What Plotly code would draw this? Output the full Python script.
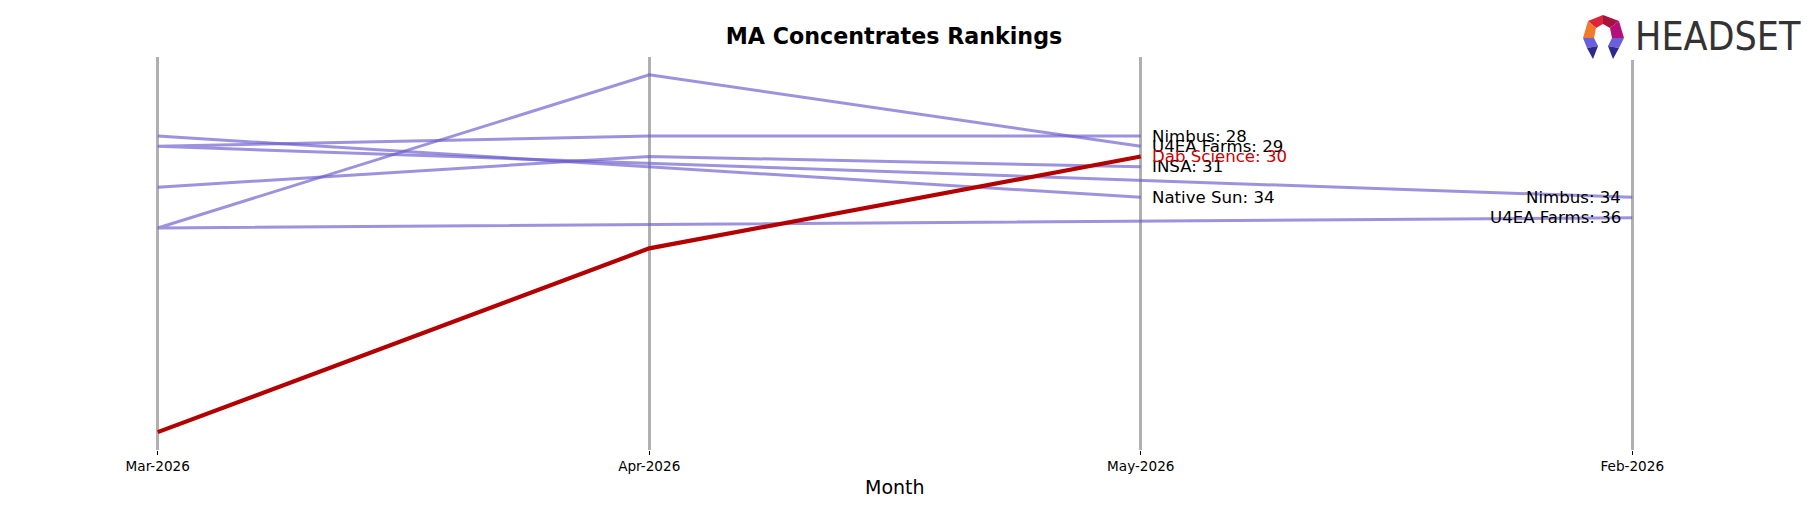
import plotly.graph_objects as go

# ---- data ----
month_order = ["Mar-2026", "Apr-2026", "May-2026", "Feb-2026"]

nimbus_months = ["Feb-2026", "Mar-2026", "Apr-2026", "May-2026"]
nimbus_ranks = [34, 29, 28, 28]

u4ea_months = ["Feb-2026", "Mar-2026", "Apr-2026", "May-2026"]
u4ea_ranks = [36, 37, 22, 29]

insa_months = ["Mar-2026", "Apr-2026", "May-2026"]
insa_ranks = [33, 30, 31]

native_months = ["Mar-2026", "Apr-2026", "May-2026"]
native_ranks = [28, 31, 34]

dab_months = ["Mar-2026", "Apr-2026", "May-2026"]
dab_ranks = [57, 39, 30]

brands = [
    ("Nimbus", nimbus_months, nimbus_ranks),
    ("U4EA Farms", u4ea_months, u4ea_ranks),
    ("INSA", insa_months, insa_ranks),
    ("Native Sun", native_months, native_ranks),
    ("Dab Science", dab_months, dab_ranks),
]
highlight = "Dab Science"
left_label_month = "May-2026"
right_label_month = "Feb-2026"

# ---- styles ----
W, H = 1818, 507
ML, MR, MT, MB = 84, 112, 57, 57
PURPLE = "rgba(106,90,205,0.66)"
RED = "#b30000"
FONT = "DejaVu Sans"

fig = go.Figure()
for name, ms, rs in brands:
    if name == highlight:
        continue
    fig.add_trace(go.Scatter(x=ms, y=rs, mode="lines", name=name,
                             line=dict(color=PURPLE, width=3), hoverinfo="skip"))
for name, ms, rs in brands:
    if name != highlight:
        continue
    fig.add_trace(go.Scatter(x=ms, y=rs, mode="lines", name=name,
                             line=dict(color=RED, width=4.2), hoverinfo="skip"))

annotations = []
ordered = [b for b in brands if b[0] != highlight] + [b for b in brands if b[0] == highlight]
for name, ms, rs in ordered:
    col = "#cc0000" if name == highlight else "black"
    for m, r in zip(ms, rs):
        if m == left_label_month:
            annotations.append(dict(x=m, y=r, xref="x", yref="y", text=f"{name}: {r}",
                                    showarrow=False, xanchor="left", yanchor="middle",
                                    xshift=9, font=dict(family=FONT, size=16.6, color=col)))
        elif m == right_label_month:
            annotations.append(dict(x=m, y=r, xref="x", yref="y", text=f"{name}: {r}",
                                    showarrow=False, xanchor="right", yanchor="middle",
                                    xshift=-9, font=dict(family=FONT, size=16.6, color=col)))

pw, ph = W - ML - MR, H - MT - MB


def px(xp, yp):
    return (xp - ML) / pw, (H - MB - yp) / ph


def poly(pts, color):
    d = ""
    for i, (a, b) in enumerate(pts):
        u, v = px(a, b)
        d += ("M" if i == 0 else "L") + f"{u:.5f},{v:.5f} "
    return dict(type="path", xref="paper", yref="paper", path=d + "Z",
                fillcolor=color, line=dict(width=0), layer="above")


shapes = [
    # white backing of the logo image (covers top of last gridline)
    poly([(1622, 50), (1645, 50), (1645, 60), (1622, 60)], "white"),
    poly([(1603, 15), (1588, 21), (1596, 28), (1603, 24)], "#d9263b"),
    poly([(1603, 15), (1603, 24), (1610, 28), (1619, 21)], "#a8123c"),
    poly([(1588, 21), (1583, 38), (1594, 38), (1596, 28)], "#f07a2a"),
    poly([(1619, 21), (1610, 28), (1612, 38), (1624, 38)], "#b4107a"),
    poly([(1583, 38), (1594, 38), (1598, 46), (1587, 48)], "#6a60de"),
    poly([(1587, 48), (1598, 46), (1593, 59)], "#2d2a8c"),
    poly([(1624, 38), (1612, 38), (1608, 46), (1619, 48)], "#6a60de"),
    poly([(1619, 48), (1608, 46), (1613, 59)], "#2d2a8c"),
]
lx, ly = px(1633, 36)
annotations.append(dict(x=lx, y=ly, xref="paper", yref="paper", text="HEADSET",
                        showarrow=False, xanchor="left", yanchor="middle",
                        font=dict(family="Liberation Sans Narrow, DejaVu Sans Condensed, sans-serif",
                                  size=39, color="#333333")))

# x axis title
annotations.append(dict(x=0.5, y=(H - MB - 487) / ph, xref="paper", yref="paper", text="Month",
                        showarrow=False, xanchor="center", yanchor="middle",
                        font=dict(family=FONT, size=19, color="black")))

all_r = [r for _, _, rs in brands for r in rs]
lo, hi = min(all_r), max(all_r)
pad = 0.05 * (hi - lo)

fig.update_layout(
    width=W, height=H,
    margin=dict(l=ML, r=MR, t=MT, b=MB),
    paper_bgcolor="white", plot_bgcolor="white",
    showlegend=False,
    title=dict(text="<b>MA Concentrates Rankings</b>", x=894 / W, xanchor="center",
               y=1 - 36.5 / H, yanchor="middle",
               font=dict(family=FONT, size=22.2, color="black")),
    xaxis=dict(type="category", categoryorder="array", categoryarray=month_order,
               range=[-0.15, len(month_order) - 1 + 0.15],
               showgrid=True, gridcolor="#b0b0b0", gridwidth=2.6,
               zeroline=False, showline=False,
               ticks="outside", ticklen=4, tickwidth=1, tickcolor="black",
               tickfont=dict(family=FONT, size=13.6, color="black")),
    yaxis=dict(range=[hi + pad, lo - pad], showgrid=False, zeroline=False,
               showline=False, showticklabels=False, ticks=""),
    annotations=annotations,
    shapes=shapes,
)

fig.write_html("out.html")
